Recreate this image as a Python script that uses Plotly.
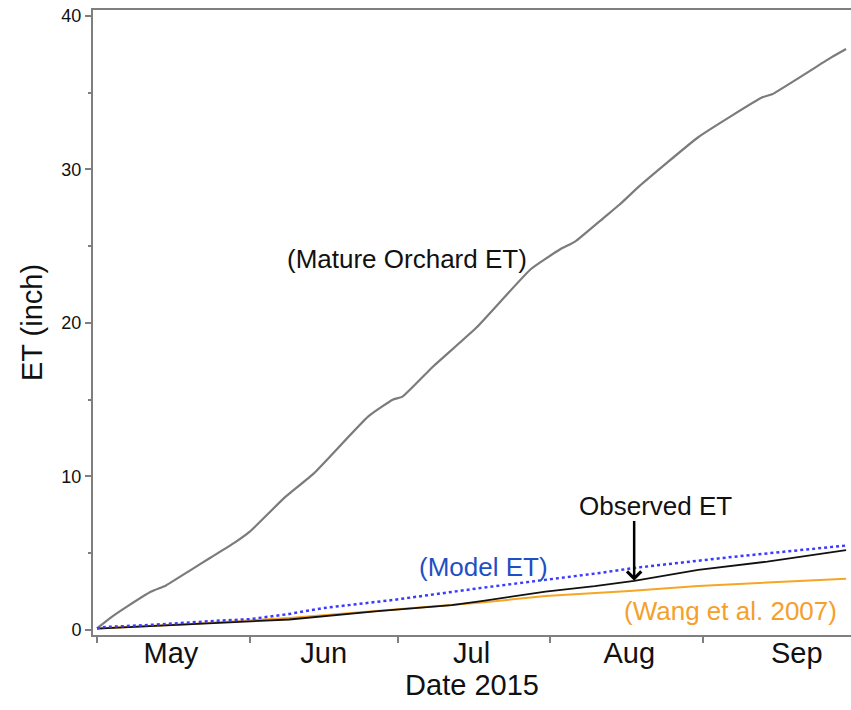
import plotly.graph_objects as go

# Cumulative evapotranspiration, 2015 season (inches)
mature_dates = ["2015-05-01", "2015-05-04", "2015-05-07", "2015-05-12", "2015-05-15",
                "2015-05-20", "2015-05-24", "2015-05-29", "2015-06-01", "2015-06-08",
                "2015-06-14", "2015-06-25", "2015-06-30", "2015-07-02", "2015-07-08",
                "2015-07-17", "2015-07-28", "2015-08-03", "2015-08-06", "2015-08-12",
                "2015-08-15", "2015-08-19", "2015-08-31", "2015-09-13", "2015-09-15",
                "2015-09-27", "2015-09-30"]
mature_et = [0.1, 0.85, 1.5, 2.5, 2.9, 3.9, 4.7, 5.7, 6.4, 8.6,
             10.2, 13.9, 15.0, 15.2, 17.1, 19.7, 23.5, 24.8, 25.3, 26.9,
             27.7, 28.9, 32.1, 34.7, 34.9, 37.3, 37.85]

model_dates = ["2015-05-01", "2015-05-02", "2015-05-12", "2015-05-18", "2015-05-26",
               "2015-06-01", "2015-06-09", "2015-06-16", "2015-06-21", "2015-06-30",
               "2015-07-18", "2015-07-31", "2015-08-11", "2015-08-18", "2015-09-07",
               "2015-09-30"]
model_et = [0.1, 0.18, 0.33, 0.46, 0.61, 0.70, 1.04, 1.43, 1.63, 1.95,
            2.74, 3.26, 3.71, 4.04, 4.76, 5.5]

observed_dates = ["2015-05-01", "2015-05-20", "2015-06-09", "2015-06-27", "2015-07-12",
                  "2015-07-18", "2015-07-31", "2015-08-10", "2015-08-18", "2015-08-31",
                  "2015-09-14", "2015-09-30"]
observed_et = [0.08, 0.36, 0.68, 1.22, 1.62, 1.88, 2.5, 2.85, 3.2, 3.91, 4.45, 5.2]

wang_dates = ["2015-05-01", "2015-05-20", "2015-06-09", "2015-06-30", "2015-07-18",
              "2015-07-31", "2015-08-17", "2015-08-31", "2015-09-30"]
wang_et = [0.1, 0.39, 0.78, 1.30, 1.78, 2.21, 2.54, 2.87, 3.33]

month_starts = ["2015-05-01", "2015-06-01", "2015-07-01", "2015-08-01", "2015-09-01"]
month_label_pos = ["2015-05-16", "2015-06-16", "2015-07-16", "2015-08-17", "2015-09-20"]
month_labels = ["May", "Jun", "Jul", "Aug", "Sep"]

FONT = "Liberation Sans, Arial, sans-serif"
AXIS_GRAY = "#7f7f7f"

fig = go.Figure()
fig.add_trace(go.Scatter(x=mature_dates, y=mature_et, mode="lines",
                         line=dict(color="#7b7b7b", width=2.2, shape="spline", smoothing=0.4),
                         name="Mature Orchard ET"))
fig.add_trace(go.Scatter(x=wang_dates, y=wang_et, mode="lines",
                         line=dict(color="#f5a623", width=2), name="Wang et al. 2007"))
fig.add_trace(go.Scatter(x=observed_dates, y=observed_et, mode="lines",
                         line=dict(color="#111111", width=1.8), name="Observed ET"))
fig.add_trace(go.Scatter(x=model_dates, y=model_et, mode="lines",
                         line=dict(color="#3b3bff", width=2.5, dash="dot"), name="Model ET"))

label_font = dict(family=FONT, size=26)
fig.add_annotation(x="2015-07-02 22:00", y=24.2, text="(Mature Orchard ET)", showarrow=False,
                   font=dict(label_font, color="#111111"))
fig.add_annotation(x="2015-07-18 12:00", y=4.1, text="(Model ET)", showarrow=False,
                   font=dict(label_font, color="#1f4fc4"))
fig.add_annotation(x="2015-08-22 07:00", y=8.1, text="Observed ET", showarrow=False,
                   font=dict(label_font, color="#111111"))
fig.add_annotation(x="2015-09-06 12:00", y=1.24, text="(Wang et al. 2007)", showarrow=False,
                   font=dict(label_font, color="#f5a02a"))
# arrow pointing at the observed curve
fig.add_annotation(x=observed_dates[8], y=observed_et[8], ax=observed_dates[8], ay=7.2,
                   xref="x", yref="y", axref="x", ayref="y", text="", showarrow=True,
                   arrowhead=4, arrowsize=1.1, arrowwidth=2.5, arrowcolor="#000000", standoff=0)

fig.update_layout(
    width=851, height=710,
    margin=dict(l=93, r=0, t=10, b=75),
    plot_bgcolor="white", paper_bgcolor="white",
    showlegend=False,
    font=dict(family=FONT, color="#111111"),
    xaxis=dict(
        type="date",
        range=["2015-04-30 04:30", "2015-10-01"],
        tickmode="array", tickvals=month_label_pos, ticktext=month_labels,
        ticks="", ticklabelstandoff=-9,
        tickfont=dict(size=29, family=FONT, color="#111111"),
        minor=dict(tickmode="array", tickvals=month_starts, ticks="outside",
                   ticklen=6, tickwidth=1.5, tickcolor=AXIS_GRAY, showgrid=False),
        showline=True, linecolor=AXIS_GRAY, linewidth=2, mirror=True,
        showgrid=False, zeroline=False,
        title=dict(text="Date 2015", font=dict(size=29, family=FONT, color="#111111"), standoff=5),
    ),
    yaxis=dict(
        range=[-0.33, 40.39],
        tickmode="linear", tick0=0, dtick=10,
        ticks="outside", ticklen=6, tickwidth=1.5, tickcolor=AXIS_GRAY,
        minor=dict(tick0=0, dtick=5, ticks="outside", ticklen=3, tickwidth=1.5,
                   tickcolor=AXIS_GRAY, showgrid=False),
        tickfont=dict(size=18, family=FONT, color="#111111"),
        showline=True, linecolor=AXIS_GRAY, linewidth=2,
        showgrid=False, zeroline=False,
        title=dict(text="ET (inch)", font=dict(size=29, family=FONT, color="#111111"), standoff=10),
    ),
)

fig.write_html("out.html")
